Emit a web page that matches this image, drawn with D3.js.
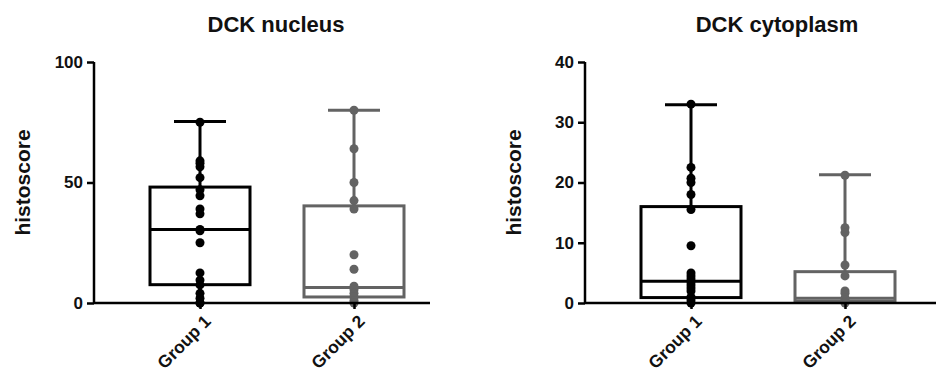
<!DOCTYPE html>
<html><head><meta charset="utf-8">
<script src="https://cdn.jsdelivr.net/npm/d3@7"></script>
<style>body{margin:0;background:#fff;}svg{display:block;}</style>
</head><body>
<svg id="c" width="939" height="372"></svg>
<script>
const groups = ["Group 1", "Group 2"];
const groupColors = ["#000000", "#636363"];

// DCK nucleus
const nucleusG1 = [75, 59, 58, 56.5, 52, 47, 44.5, 39, 37, 30.5, 30, 25, 12.5, 9.5, 7.5, 4, 2, 0, 0];
const nucleusG2 = [80, 64, 50, 42.5, 39, 20, 14, 7, 5.5, 4, 2.5, 1, 0];
const nucleusMin = [0, 0];
const nucleusQ1 = [7.6, 2.5];
const nucleusMedian = [30.5, 6.4];
const nucleusQ3 = [48.1, 40.3];
const nucleusMax = [75.3, 80];
const nucleusTicks = [0, 50, 100];

// DCK cytoplasm
const cytoG1 = [33, 22.5, 20.7, 20, 18, 15.5, 9.5, 5, 4.5, 4, 3.5, 3, 2.5, 2, 1, 0.5, 0];
const cytoG2 = [21.2, 12.5, 11.7, 6.3, 4.5, 2, 1.6, 0.8, 0.5, 0.2, 0];
const cytoMin = [0, 0];
const cytoQ1 = [0.9, 0.3];
const cytoMedian = [3.6, 0.8];
const cytoQ3 = [16.0, 5.2];
const cytoMax = [32.9, 21.3];
const cytoTicks = [0, 10, 20, 30, 40];

const svg = d3.select("#c");
const FONT = "Liberation Sans, Arial, sans-serif";

function panel(o) {
  const g = svg.append("g");
  const y = d3.scaleLinear().domain([0, o.ymax]).range([303, 62]);
  const x = d3.scalePoint().domain(groups).range([o.x0 + 106, o.x0 + 260]);
  const boxW = 100, capW = 52;

  // title
  g.append("text").attr("x", o.titleX).attr("y", 32).attr("text-anchor", "middle")
    .attr("font-family", FONT).attr("font-weight", "bold").attr("font-size", 22)
    .attr("fill", "#111").text(o.title);

  // y axis title
  g.append("text").attr("transform", `translate(${o.x0 - 64},${y(o.ymax/2)}) rotate(-90)`)
    .attr("text-anchor", "middle").attr("font-family", FONT).attr("font-weight", "bold")
    .attr("font-size", 21).attr("fill", "#111").text("histoscore");

  // boxes
  groups.forEach((gr, i) => {
    const cx = x(gr), col = groupColors[i];
    const bg = g.append("g").attr("stroke", col).attr("fill", "none").attr("stroke-width", 3);
    bg.append("line").attr("x1", cx).attr("x2", cx).attr("y1", y(o.q3[i])).attr("y2", y(o.max[i]));
    bg.append("line").attr("x1", cx).attr("x2", cx).attr("y1", y(o.q1[i])).attr("y2", y(o.min[i]));
    bg.append("line").attr("x1", cx - capW/2).attr("x2", cx + capW/2).attr("y1", y(o.max[i])).attr("y2", y(o.max[i]));
    bg.append("line").attr("x1", cx - capW/2).attr("x2", cx + capW/2).attr("y1", y(o.min[i])).attr("y2", y(o.min[i])).attr("stroke-width", 1.5);
    bg.append("rect").attr("x", cx - boxW/2).attr("width", boxW)
      .attr("y", y(o.q3[i])).attr("height", y(o.q1[i]) - y(o.q3[i]));
    bg.append("line").attr("x1", cx - boxW/2).attr("x2", cx + boxW/2).attr("y1", y(o.med[i])).attr("y2", y(o.med[i]));
    g.append("g").selectAll("circle").data(o.pts[i]).join("circle")
      .attr("cx", cx).attr("cy", d => y(d)).attr("r", 4.5).attr("fill", col);
  });

  // y axis
  const ya = g.append("g").attr("transform", `translate(${o.x0},0)`)
    .call(d3.axisLeft(y).tickValues(o.ticks).tickSize(7).tickPadding(4).tickFormat(d3.format("d")));
  ya.select(".domain").attr("stroke", "#000").attr("stroke-width", 2.5).attr("d", `M0,${y(o.ymax)}V${y(0)}`);
  ya.selectAll(".tick line").attr("stroke", "#000").attr("stroke-width", 2.5);
  ya.selectAll(".tick text").attr("font-family", FONT).attr("font-weight", "bold")
    .attr("font-size", 17).attr("fill", "#111");

  // x axis
  const xa = g.append("g").attr("transform", `translate(0,${y(0)})`)
    .call(d3.axisBottom(x).tickSize(6).tickPadding(6));
  xa.select(".domain").attr("stroke", "#000").attr("stroke-width", 2.5).attr("d", `M${o.x0},0H${o.x1}`);
  xa.selectAll(".tick line").attr("stroke", "#000").attr("stroke-width", 2.5);
  xa.selectAll(".tick text").attr("font-family", FONT).attr("font-weight", "bold")
    .attr("font-size", 17.5).attr("fill", "#111")
    .attr("text-anchor", "end").attr("dy", null)
    .attr("transform", "translate(3,11) rotate(-45)");
}

panel({title: "DCK nucleus", titleX: 276, x0: 94, x1: 430, ymax: 100, ticks: nucleusTicks,
  pts: [nucleusG1, nucleusG2], min: nucleusMin, q1: nucleusQ1, med: nucleusMedian, q3: nucleusQ3, max: nucleusMax});
panel({title: "DCK cytoplasm", titleX: 777, x0: 585, x1: 936, ymax: 40, ticks: cytoTicks,
  pts: [cytoG1, cytoG2], min: cytoMin, q1: cytoQ1, med: cytoMedian, q3: cytoQ3, max: cytoMax});
</script>
</body></html>
